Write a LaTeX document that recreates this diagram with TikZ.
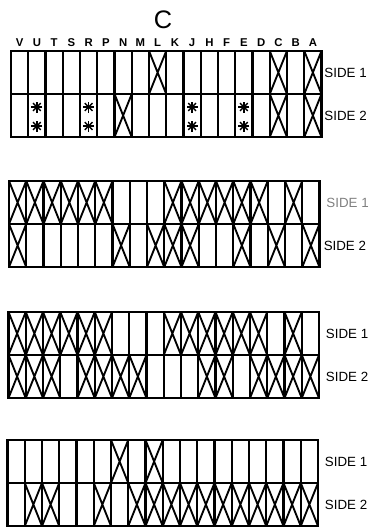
\documentclass[tikz,border=0pt]{standalone}
\usepackage{fontspec}
\setmainfont{Liberation Sans}
\usetikzlibrary{shapes.misc,positioning}

\begin{document}
\begin{tikzpicture}[
    x=0.75pt, y=-0.75pt,
    cell/.style={draw, rectangle, line width=1.8pt, minimum width=12.94pt, minimum height=32.25pt, inner sep=0pt, outer sep=0pt},
    crossed/.style={draw, cross out, line width=1.4pt, minimum width=12.94pt, minimum height=32.25pt, inner sep=0pt, outer sep=0pt},
    colname/.style={font=\fontsize{8.5}{9}\selectfont\bfseries, inner sep=0pt},
    sidelabel/.style={font=\fontsize{10}{11}\selectfont, inner sep=0pt, anchor=west},
    spoke/.style={line width=1pt}
]
\useasboundingbox (0,0) rectangle (382,528);

\node[font=\fontsize{19}{19}\selectfont] (title) at (163,20) {C};

% the four panels, 2 rows x 18 cells each
\foreach \g/\gx/\gy in {1/11/51, 2/9/181, 3/8.5/312, 4/7.5/440} {
  \foreach \r in {1,2}
    \foreach \c in {0,...,17}
      \node[cell] (g\g-\r-\c) at ({\gx+(\c+0.5)*17.25},{\gy+(\r-0.5)*43}) {};
}

% column letters
\foreach \c/\t in {0/V,1/U,2/T,3/S,4/R,5/P,6/N,7/M,8/L,9/K,10/J,11/H,12/F,13/E,14/D,15/C,16/B,17/A}
  \node[colname, above=3pt of g1-1-\c] (col-\c) {\t};

% panel 1
\foreach \c in {8,15,17} \node[crossed] (x1-1-\c) at (g1-1-\c) {};
\foreach \c in {6,15,17} \node[crossed] (x1-2-\c) at (g1-2-\c) {};
\foreach \c in {1,4,10,13} {
  \coordinate (st-\c-a) at ({11+(\c+0.5)*17.25},107);
  \coordinate (st-\c-b) at ({11+(\c+0.5)*17.25},126);
  \foreach \k in {a,b} {
    \foreach \a in {0,45,90,135}
      \draw[spoke] (st-\c-\k) ++(\a:5.5) -- ++(\a+180:11);
    \fill (st-\c-\k) circle (1.6);
  }
}

% panel 2
\foreach \c in {0,1,2,3,4,5,9,10,11,12,13,14,16} \node[crossed] (x2-1-\c) at (g2-1-\c) {};
\foreach \c in {0,6,8,9,10,13,15,17} \node[crossed] (x2-2-\c) at (g2-2-\c) {};

% panel 3
\foreach \c in {0,1,2,3,4,5,9,10,11,12,13,14,16} \node[crossed] (x3-1-\c) at (g3-1-\c) {};
\foreach \c in {0,1,2,4,5,6,7,11,12,14,15,16,17} \node[crossed] (x3-2-\c) at (g3-2-\c) {};

% panel 4
\foreach \c in {6,8} \node[crossed] (x4-1-\c) at (g4-1-\c) {};
\foreach \c in {1,2,5,7,8,9,10,11,12,13,14,15,16,17} \node[crossed] (x4-2-\c) at (g4-2-\c) {};

% side labels
\node[sidelabel, right=2pt of g1-1-17] (s1-1) {SIDE 1};
\node[sidelabel, right=2pt of g1-2-17] (s1-2) {SIDE 2};
\node[sidelabel, right=5pt of g2-1-17, text=gray] (s2-1) {SIDE 1};
\node[sidelabel, right=3pt of g2-2-17] (s2-2) {SIDE 2};
\node[sidelabel, right=5pt of g3-1-17] (s3-1) {SIDE 1};
\node[sidelabel, right=5pt of g3-2-17] (s3-2) {SIDE 2};
\node[sidelabel, right=5pt of g4-1-17] (s4-1) {SIDE 1};
\node[sidelabel, right=5pt of g4-2-17] (s4-2) {SIDE 2};
\end{tikzpicture}
\end{document}
